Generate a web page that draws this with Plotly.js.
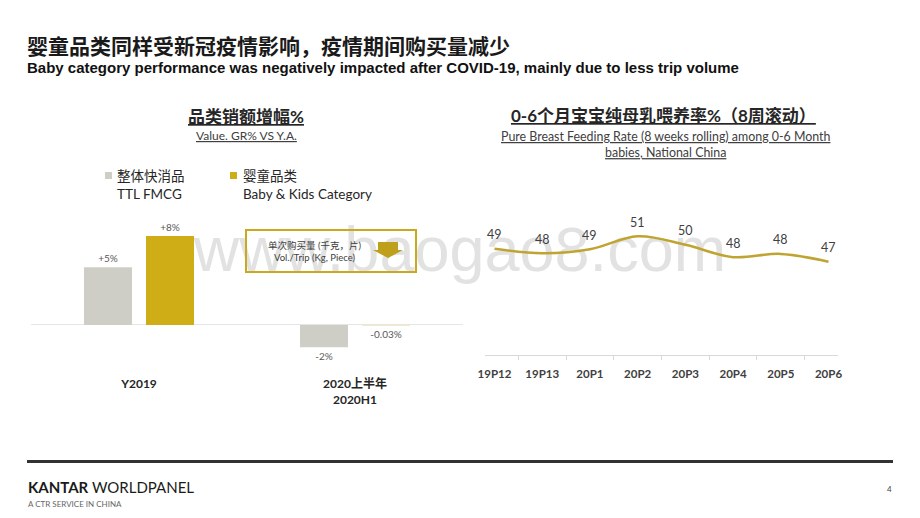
<!DOCTYPE html>
<html><head><meta charset="utf-8">
<script src="https://cdn.plot.ly/plotly-3.0.1.min.js"></script>
<style>html,body{margin:0;padding:0;background:#fff;} #chart{width:920px;height:518px;}</style>
</head><body><div id="chart"></div>
<script>
// ---- data ----
const barCategories = ['Y2019', '2020上半年<br>2020H1'];
const fmcgValues = [5.2, -2.0];
const fmcgLabels = ['+5%', '-2%'];
const babyValues = [8.0, -0.03];
const babyLabels = ['+8%', '-0.03%'];
const periods = ['19P12', '19P13', '20P1', '20P2', '20P3', '20P4', '20P5', '20P6'];
const feedingRate = [49.0, 48.3, 48.9, 50.9, 49.6, 47.7, 48.2, 47.0];
const feedingLabels = feedingRate.map(v => String(Math.round(v)));

// ---- helpers: pixel -> paper ----
const W = 920, H = 518;
const px = v => v / W;
const py = v => 1 - v / H;

const CJK = 'Lato, "Noto Sans CJK SC", sans-serif';
const GRAY = '#cfcec6', GOLD = '#cfad16', LINE = '#bfa431';

const traces = [
  { type: 'bar', x: barCategories, y: fmcgValues, text: fmcgLabels, textposition: 'outside',
    marker: { color: GRAY }, textfont: { family: CJK, size: 10, color: '#595959' },
    cliponaxis: false, xaxis: 'x', yaxis: 'y', hoverinfo: 'skip' },
  { type: 'bar', x: barCategories, y: babyValues, text: babyLabels, textposition: 'outside',
    marker: { color: GOLD }, textfont: { family: CJK, size: 10, color: '#595959' },
    cliponaxis: false, xaxis: 'x', yaxis: 'y', hoverinfo: 'skip' },
  { type: 'scatter', mode: 'lines', x: periods, y: feedingRate,
    line: { color: LINE, width: 2.5, shape: 'spline', smoothing: 1 },
    xaxis: 'x2', yaxis: 'y2', hoverinfo: 'skip' }
];

const annotations = [
  { text: '<b>婴童品类同样受新冠疫情影响，疫情期间购买量减少</b>', x: px(26), y: py(45), xanchor: 'left', borderpad: 0,
    font: { family: '"Noto Sans CJK SC", sans-serif', size: 21, color: '#1a1a1a' } },
  { text: '<b>Baby category performance was negatively impacted after COVID-19, mainly due to less trip volume</b>', x: px(26), y: py(68),
    xanchor: 'left', borderpad: 0, font: { family: '"Liberation Sans", Arial, sans-serif', size: 15, color: '#111' } },
  { text: '<b><u>品类销额增幅%</u></b>', x: px(246), y: py(116), borderpad: 0, font: { family: CJK, size: 17, color: '#262626' } },
  { text: '<u>Value. GR% VS Y.A.</u>', x: px(246), y: py(135), borderpad: 0, font: { family: CJK, size: 12, color: '#404040' } },
  { text: '整体快消品', x: px(115), y: py(176), xanchor: 'left', font: { family: CJK, size: 13.5, color: '#262626' } },
  { text: 'TTL FMCG', x: px(115), y: py(194), xanchor: 'left', font: { family: CJK, size: 13.5, color: '#262626' } },
  { text: '婴童品类', x: px(241), y: py(176), xanchor: 'left', font: { family: CJK, size: 13.5, color: '#262626' } },
  { text: 'Baby & Kids Category', x: px(241), y: py(194), xanchor: 'left', font: { family: CJK, size: 13.5, color: '#262626' } },
  { text: '单次购买量 (千克，片)<br>Vol./Trip (Kg, Piece)', x: px(314), y: py(251), font: { family: CJK, size: 9.5, color: '#404040' } },
  { text: '<b><u>0-6个月宝宝纯母乳喂养率%（8周滚动）</u></b>', x: px(663), y: py(115), borderpad: 0, font: { family: CJK, size: 17, color: '#262626' } },
  { text: '<u>Pure Breast Feeding Rate (8 weeks rolling) among 0-6 Month</u><br><u>babies, National China</u>', x: px(666), y: py(144),
    borderpad: 0, font: { family: CJK, size: 12.4, color: '#404040' } },
  { text: '<b>KANTAR</b> WORLDPANEL', x: px(26), y: py(487), xanchor: 'left', font: { family: 'Lato, sans-serif', size: 15, color: '#1a1a1a' } },
  { text: 'A CTR SERVICE IN CHINA', x: px(26), y: py(504), xanchor: 'left', font: { family: 'Lato, sans-serif', size: 8, color: '#666' } },
  { text: '4', x: px(889), y: py(489), font: { family: 'Lato, sans-serif', size: 8, color: '#444' } }
];
periods.forEach((p, i) => annotations.push({
  text: feedingLabels[i], x: p, y: feedingRate[i], xref: 'x2', yref: 'y2', yshift: 14,
  font: { family: CJK, size: 12.5, color: '#404040' }
}));
annotations.forEach(a => {
  a.showarrow = false;
  if (!a.xanchor) a.xanchor = 'center';
  a.yanchor = 'middle';
  if (!a.xref) { a.xref = 'paper'; a.yref = 'paper'; }
});

const shapes = [
  // watermark
  { type: 'rect', xref: 'paper', yref: 'paper', x0: px(200), x1: px(720), y0: py(276), y1: py(210), layer: 'below',
    line: { width: 0 }, label: { text: 'www.baogao8.com', textposition: 'middle center',
    font: { family: '"Liberation Sans Narrow", "Liberation Sans", sans-serif', size: 63, color: '#e2e2e2' } } },
  // legend squares
  { type: 'rect', xref: 'paper', yref: 'paper', x0: px(105), x1: px(112), y0: py(179), y1: py(172), fillcolor: GRAY, line: { width: 0 } },
  { type: 'rect', xref: 'paper', yref: 'paper', x0: px(230), x1: px(237), y0: py(179), y1: py(172), fillcolor: GOLD, line: { width: 0 } },
  // callout box
  { type: 'rect', xref: 'paper', yref: 'paper', x0: px(246), x1: px(416), y0: py(272), y1: py(230), fillcolor: 'rgba(0,0,0,0)',
    line: { color: '#c9aa1c', width: 2 }, layer: 'above' },
  // down arrow
  { type: 'path', xref: 'paper', yref: 'paper', layer: 'above', fillcolor: '#bea01c', line: { width: 0 },
    path: `M${px(378)},${py(242)} L${px(398)},${py(242)} L${px(398)},${py(250)} L${px(403)},${py(250)} L${px(388)},${py(258)} L${px(373)},${py(250)} L${px(378)},${py(250)} Z` },
  // footer rule
  { type: 'line', xref: 'paper', yref: 'paper', x0: px(27), x1: px(893), y0: py(461.5), y1: py(461.5), line: { color: '#333', width: 3 } }
];

const layout = {
  width: W, height: H, margin: { l: 0, r: 0, t: 0, b: 0 }, showlegend: false,
  paper_bgcolor: 'white', plot_bgcolor: 'rgba(0,0,0,0)',
  barmode: 'group', bargap: 0.426, bargroupgap: 0.226,
  xaxis: { domain: [px(31), px(463)], anchor: 'y', showline: false, ticks: '', showgrid: false, zeroline: false,
    tickfont: { family: CJK, size: 12, color: '#262626', weight: 'bold' }, fixedrange: true },
  yaxis: { domain: [py(375), py(213.75)], range: [-4.5, 10], anchor: 'x', visible: true, showticklabels: false,
    showgrid: false, ticks: '', showline: false, zeroline: true, zerolinecolor: '#e6e6e6', zerolinewidth: 1, fixedrange: true },
  xaxis2: { domain: [px(485), px(838)], anchor: 'y2', showline: true, linecolor: '#d9d9d9', linewidth: 1,
    ticks: 'outside', tickson: 'boundaries', ticklen: 4, tickcolor: '#d9d9d9', ticklabelstandoff: 8, showgrid: false,
    tickfont: { family: CJK, size: 11.5, color: '#404040', weight: 'bold' }, fixedrange: true },
  yaxis2: { domain: [py(355), py(210)], range: [32.65, 54.95], anchor: 'x2', showticklabels: false, showgrid: false,
    zeroline: false, showline: false, ticks: '', fixedrange: true },
  annotations, shapes
};

Plotly.newPlot('chart', traces, layout, { staticPlot: true });
</script></body></html>
